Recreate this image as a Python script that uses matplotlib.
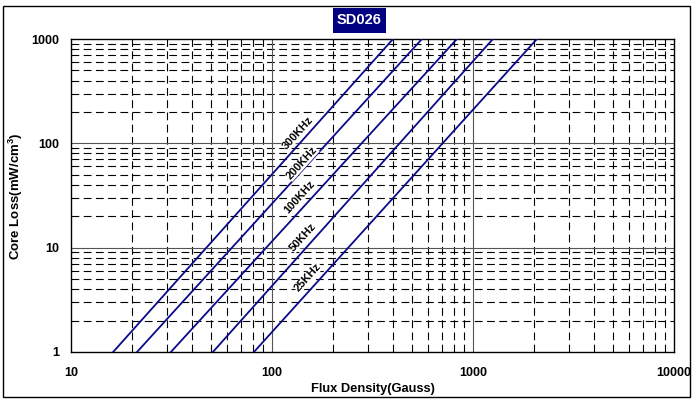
import matplotlib.pyplot as plt
from matplotlib.patches import Rectangle
from matplotlib.ticker import FixedLocator, NullFormatter

plt.rcParams['font.family'] = ['Liberation Sans', 'DejaVu Sans']
plt.rcParams['mathtext.fontset'] = 'custom'
plt.rcParams['mathtext.bf'] = 'Liberation Sans:bold'
plt.rcParams['mathtext.rm'] = 'Liberation Sans'

# curve labels and endpoints
freq_labels = ["300KHz", "200KHz", "100KHz", "50KHz", "25KHz"]
flux_at_1 = [16.2, 21.3, 31.4, 50.8, 81.3]          # Gauss where loss = 1
flux_at_1000 = [400, 557, 832, 1256, 2080]          # Gauss where loss = 1000
loss_ends = [1, 1000]
label_x = [134.6, 141, 137.7, 142.6, 151]
label_y = [125.6, 64.7, 30.6, 12.6, 5.2]

x_ticks = [10, 100, 1000, 10000]
y_ticks = [1, 10, 100, 1000]

navy = "#0a0a8a"

fig = plt.figure(figsize=(6.93, 3.99), dpi=100)
W, H = 693, 399
ax = fig.add_axes([71 / W, 1 - 352 / H, (674 - 71) / W, (352 - 39) / H])
ax.set_xscale("log")
ax.set_yscale("log")
ax.set_xlim(10, 10000)
ax.set_ylim(1, 1000)

# grid: solid gray at decades, dashed black in between
minor_x = [m * 10 ** d for d in range(1, 4) for m in range(2, 10)]
minor_y = [m * 10 ** d for d in range(0, 3) for m in range(2, 10)]
for v in minor_x:
    ax.axvline(v, color="black", lw=0.8, ls=(0, (7, 4)), zorder=1)
for v in minor_y:
    ax.axhline(v, color="black", lw=0.8, ls=(0, (7, 4)), zorder=1)
for v in x_ticks[1:-1]:
    ax.axvline(v, color="#555555", lw=0.8, zorder=1.5)
for v in y_ticks[1:-1]:
    ax.axhline(v, color="#555555", lw=0.8, zorder=1.5)

for lo, hi in zip(flux_at_1, flux_at_1000):
    ax.plot([lo, hi], loss_ends, color=navy, lw=1.3, zorder=3)

for lab, lx, ly in zip(freq_labels, label_x, label_y):
    ax.text(lx, ly, lab, rotation=48, ha="center", va="center",
            fontsize=8, fontweight="bold", zorder=4,
            bbox=dict(facecolor="white", edgecolor="none", pad=0.2))

ax.xaxis.set_major_locator(FixedLocator(x_ticks))
ax.yaxis.set_major_locator(FixedLocator(y_ticks))
ax.xaxis.set_minor_formatter(NullFormatter())
ax.yaxis.set_minor_formatter(NullFormatter())
ax.set_xticklabels([str(t) for t in x_ticks], fontweight="bold", fontsize=9)
ax.set_yticklabels([str(t) for t in y_ticks], fontweight="bold", fontsize=9)
ax.tick_params(which="both", length=0)
ax.tick_params(axis="x", pad=11)
ax.tick_params(axis="y", pad=8.5)
for s in ax.spines.values():
    s.set_linewidth(1.0)
    s.set_color("black")

fig.text(372.5 / W, 1 - 389 / H, "Flux Density(Gauss)", fontsize=9.3,
         fontweight="bold", ha="center", va="center")
fig.text(16 / W, 1 - 196 / H, "Core Loss(mW/cm$\\mathbf{^3}$)", fontsize=9.5,
         fontweight="bold", ha="center", va="center", rotation=90)

# outer frame and title box
fig.patches.append(Rectangle((3 / W, 1 - 397 / H), 687 / W, 391 / H,
                             transform=fig.transFigure, fill=False,
                             edgecolor="black", lw=1.0))
fig.patches.append(Rectangle((333 / W, 1 - 33 / H), 53 / W, 25 / H,
                             transform=fig.transFigure, facecolor="#000080",
                             edgecolor="none"))
fig.text(359.5 / W, 1 - 20.5 / H, "SD026", color="white", fontsize=10.5,
         fontweight="bold", ha="center", va="center")

fig.savefig("out.png", dpi=100)
